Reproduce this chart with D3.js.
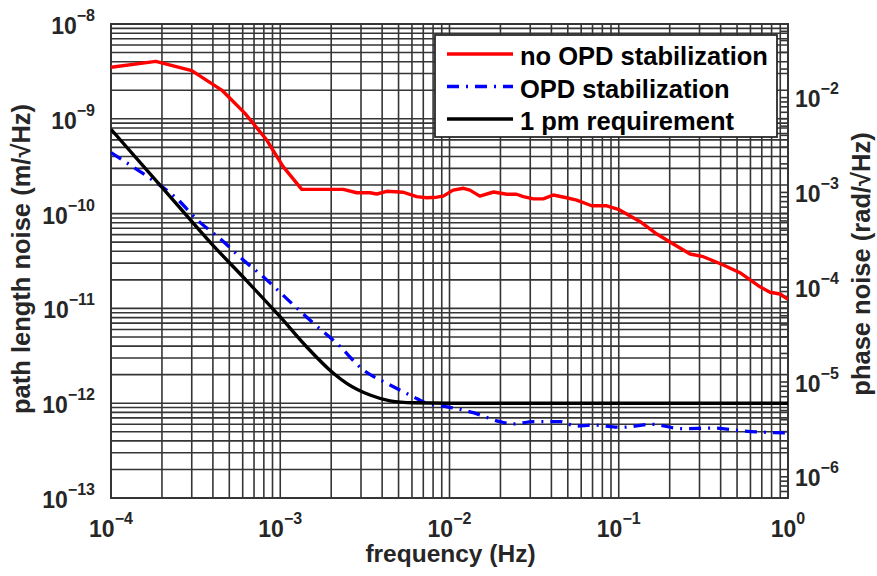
<!DOCTYPE html>
<html>
<head>
<meta charset="utf-8">
<script src="https://cdn.jsdelivr.net/npm/d3@7/dist/d3.min.js"></script>
<style>
  html, body { margin: 0; padding: 0; background: #fff; }
  svg { display: block; font-family: "Liberation Sans", Arial, Helvetica, sans-serif; font-weight: bold; }
</style>
</head>
<body>
<svg id="chart" width="877" height="576"></svg>
<script>
// ---- data -------------------------------------------------------------
// free-running optical path difference noise (m/√Hz)
const noStabFreq = [1e-4, 1.84e-4, 3.0e-4, 4.51e-4, 6.19e-4, 8.32e-4, 1.04e-3, 1.34e-3,
  2.36e-3, 2.83e-3, 3.39e-3, 3.72e-3, 4.26e-3, 5.33e-3, 6.40e-3, 7.33e-3, 8.40e-3, 9.19e-3,
  1.05e-2, 1.21e-2, 1.32e-2, 1.51e-2, 1.82e-2, 2.18e-2, 2.49e-2, 2.73e-2, 3.13e-2, 3.58e-2,
  4.10e-2, 4.92e-2, 5.64e-2, 6.92e-2, 8.49e-2, 9.94e-2, 0.134, 0.168, 0.210, 0.264, 0.316,
  0.415, 0.520, 0.684, 0.783, 0.897, 1.0];
const noStabNoise = [3.49e-9, 4.04e-9, 3.22e-9, 2.01e-9, 1.14e-9, 5.97e-10, 3.13e-10, 1.80e-10,
  1.80e-10, 1.66e-10, 1.66e-10, 1.61e-10, 1.72e-10, 1.68e-10, 1.51e-10, 1.47e-10, 1.49e-10, 1.53e-10,
  1.77e-10, 1.85e-10, 1.77e-10, 1.53e-10, 1.69e-10, 1.60e-10, 1.60e-10, 1.51e-10, 1.43e-10, 1.43e-10,
  1.57e-10, 1.47e-10, 1.39e-10, 1.21e-10, 1.21e-10, 1.11e-10, 8.22e-11, 6.09e-11, 4.78e-11, 3.75e-11, 3.51e-11,
  2.87e-11, 2.38e-11, 1.69e-11, 1.48e-11, 1.42e-11, 1.25e-11];

// stabilized optical path difference noise (m/√Hz)
const stabFreq = [1e-4, 1.21e-4, 1.70e-4, 2.44e-4, 3.24e-4, 4.47e-4, 6.05e-4, 8.32e-4, 1.14e-3,
  1.57e-3, 2.16e-3, 3.10e-3, 4.26e-3, 6.11e-3, 7.33e-3, 9.19e-3, 1.38e-2, 1.99e-2, 2.38e-2,
  3.13e-2, 4.50e-2, 5.64e-2, 6.92e-2, 0.104, 0.157, 0.235, 0.362, 0.545, 0.838, 1.0];
const stabNoise = [4.4e-10, 3.53e-10, 2.36e-10, 1.45e-10, 8.56e-11, 5.32e-11, 3.24e-11, 2.0e-11, 1.18e-11,
  6.97e-12, 4.28e-12, 2.24e-12, 1.62e-12, 1.17e-12, 9.97e-13, 9.34e-13, 7.94e-13, 6.38e-13, 6.04e-13,
  6.38e-13, 6.38e-13, 5.74e-13, 5.89e-13, 5.57e-13, 5.99e-13, 5.38e-13, 5.47e-13, 5.09e-13, 4.89e-13, 4.85e-13];

// 1 pm/√Hz requirement with low-frequency relaxation (m/√Hz)
const reqFreq = [1e-4, 2.33e-4, 4.02e-4, 6.34e-4, 9.97e-4, 1.43e-3, 2.06e-3, 2.47e-3, 3.39e-3,
  4.45e-3, 6.11e-3, 1e-2, 0.1, 1.0];
const reqNoise = [7.75e-10, 1.39e-10, 4.6e-11, 1.95e-11, 8.17e-12, 3.94e-12, 2.07e-12, 1.62e-12, 1.22e-12,
  1.06e-12, 1.01e-12, 1.0e-12, 1.0e-12, 1.0e-12];

// axis labelling
const xTickExponents = [-4, -3, -2, -1, 0];
const yTickExponents = [-13, -12, -11, -10, -9, -8];
const phaseTickExponents = [-6, -5, -4, -3, -2];
const seriesNames = ["no OPD stabilization", "OPD stabilization", "1 pm requirement"];
const seriesColors = ["#ff0000", "#0000ff", "#000000"];
const xTitle = "frequency (Hz)";
const yTitle = "path length noise (m/\u221AHz)";
const y2Title = "phase noise (rad/\u221AHz)";
const wavelength = 1064e-9; // m, converts path length to phase

// ---- layout -----------------------------------------------------------
const svg = d3.select("#chart");
const L = 111, R = 788, T = 24, B = 498;

const x = d3.scaleLog().domain([1e-4, 1]).range([L, R]);
const y = d3.scaleLog().domain([1e-13, 1e-8]).range([B, T]);
const toPhase = v => 2 * Math.PI * v / wavelength;
const yPhase = d3.scaleLog().domain(y.domain().map(toPhase)).range([B, T]);

const gridColor = "#353535";
const textColor = "#262626";

// grid: every 1..9 multiple of each decade
const grid = svg.append("g");
grid.selectAll("line.vx").data(x.ticks()).join("line")
  .attr("x1", d => x(d)).attr("x2", d => x(d))
  .attr("y1", T).attr("y2", B)
  .attr("stroke", gridColor).attr("stroke-width", 1.6);
grid.selectAll("line.hy").data(y.ticks()).join("line")
  .attr("x1", L).attr("x2", R)
  .attr("y1", d => y(d)).attr("y2", d => y(d))
  .attr("stroke", gridColor).attr("stroke-width", 1.6);

// right-hand phase axis ticks, pointing into the plot
const phaseAxis = d3.axisLeft(yPhase)
  .tickValues(yPhase.ticks())
  .tickSize(7).tickFormat("");
const pa = svg.append("g").attr("transform", `translate(${R},0)`).call(phaseAxis);
pa.select(".domain").remove();
pa.selectAll(".tick line").attr("stroke", gridColor).attr("stroke-width", 1.6);

// plot frame
svg.append("rect").attr("x", L).attr("y", T).attr("width", R - L).attr("height", B - T)
  .attr("fill", "none").attr("stroke", gridColor).attr("stroke-width", 2);

// ---- curves -------------------------------------------------------------
svg.append("clipPath").attr("id", "plotClip")
  .append("rect").attr("x", L).attr("y", T).attr("width", R - L).attr("height", B - T);
const curves = svg.append("g").attr("clip-path", "url(#plotClip)");

function drawSeries(fs, vs, color, width, dash, curve) {
  const pts = fs.map((f, i) => [f, vs[i]]);
  const line = d3.line().x(d => x(d[0])).y(d => y(d[1])).curve(curve);
  curves.append("path").datum(pts)
    .attr("d", line)
    .attr("fill", "none")
    .attr("stroke", color)
    .attr("stroke-width", width)
    .attr("stroke-linejoin", "round")
    .attr("stroke-dasharray", dash);
}
drawSeries(stabFreq, stabNoise, seriesColors[1], 3.3, "12,7,2,7", d3.curveMonotoneX);
drawSeries(reqFreq, reqNoise, seriesColors[2], 3.4, null, d3.curveMonotoneX);
drawSeries(noStabFreq, noStabNoise, seriesColors[0], 3.4, null, d3.curveLinear);

// ---- tick labels --------------------------------------------------------
function powerLabel(sel, exp) {
  sel.append("tspan").text("10");
  sel.append("tspan").attr("dy", -13).attr("font-size", 16)
    .text(exp < 0 ? "\u2212" + (-exp) : String(exp));
}
svg.append("g").selectAll("text").data(xTickExponents).join("text")
  .attr("x", d => x(Math.pow(10, d)))
  .attr("y", B + 39)
  .attr("text-anchor", "middle")
  .attr("font-size", 23).attr("fill", textColor)
  .each(function (d) { powerLabel(d3.select(this), d); });

svg.append("g").selectAll("text").data(yTickExponents).join("text")
  .attr("x", L - 16)
  .attr("y", d => y(Math.pow(10, d)) + 10)
  .attr("text-anchor", "end")
  .attr("font-size", 23).attr("fill", textColor)
  .each(function (d) { powerLabel(d3.select(this), d); });

svg.append("g").selectAll("text").data(phaseTickExponents).join("text")
  .attr("x", R + 7)
  .attr("y", d => yPhase(Math.pow(10, d)) + 10)
  .attr("text-anchor", "start")
  .attr("font-size", 23).attr("fill", textColor)
  .each(function (d) { powerLabel(d3.select(this), d); });

// ---- axis titles --------------------------------------------------------
svg.append("text").attr("x", (L + R) / 2 + 1).attr("y", 562)
  .attr("text-anchor", "middle").attr("font-size", 24.5).attr("fill", textColor)
  .text(xTitle);
svg.append("text").attr("transform", "translate(30,259) rotate(-90)")
  .attr("text-anchor", "middle").attr("font-size", 25.5).attr("fill", textColor)
  .text(yTitle);
svg.append("text").attr("transform", "translate(870,264) rotate(-90)")
  .attr("text-anchor", "middle").attr("font-size", 25.5).attr("fill", textColor)
  .text(y2Title);

// ---- legend -------------------------------------------------------------
const legend = svg.append("g");
legend.append("rect").attr("x", 435).attr("y", 35).attr("width", 342).attr("height", 102)
  .attr("fill", "#fff").attr("stroke", "#2a2a2a").attr("stroke-width", 1.8);
const dashes = [null, "12,7,2,7", null];
seriesNames.forEach((name, i) => {
  const ly = 54 + i * 32.5;
  legend.append("line").attr("x1", 447).attr("x2", 513).attr("y1", ly).attr("y2", ly)
    .attr("stroke", seriesColors[i]).attr("stroke-width", 3.4)
    .attr("stroke-dasharray", dashes[i]);
  legend.append("text").attr("x", 520).attr("y", ly + 11)
    .attr("font-size", 25.5).attr("fill", "#000").text(name);
});
</script>
</body>
</html>
